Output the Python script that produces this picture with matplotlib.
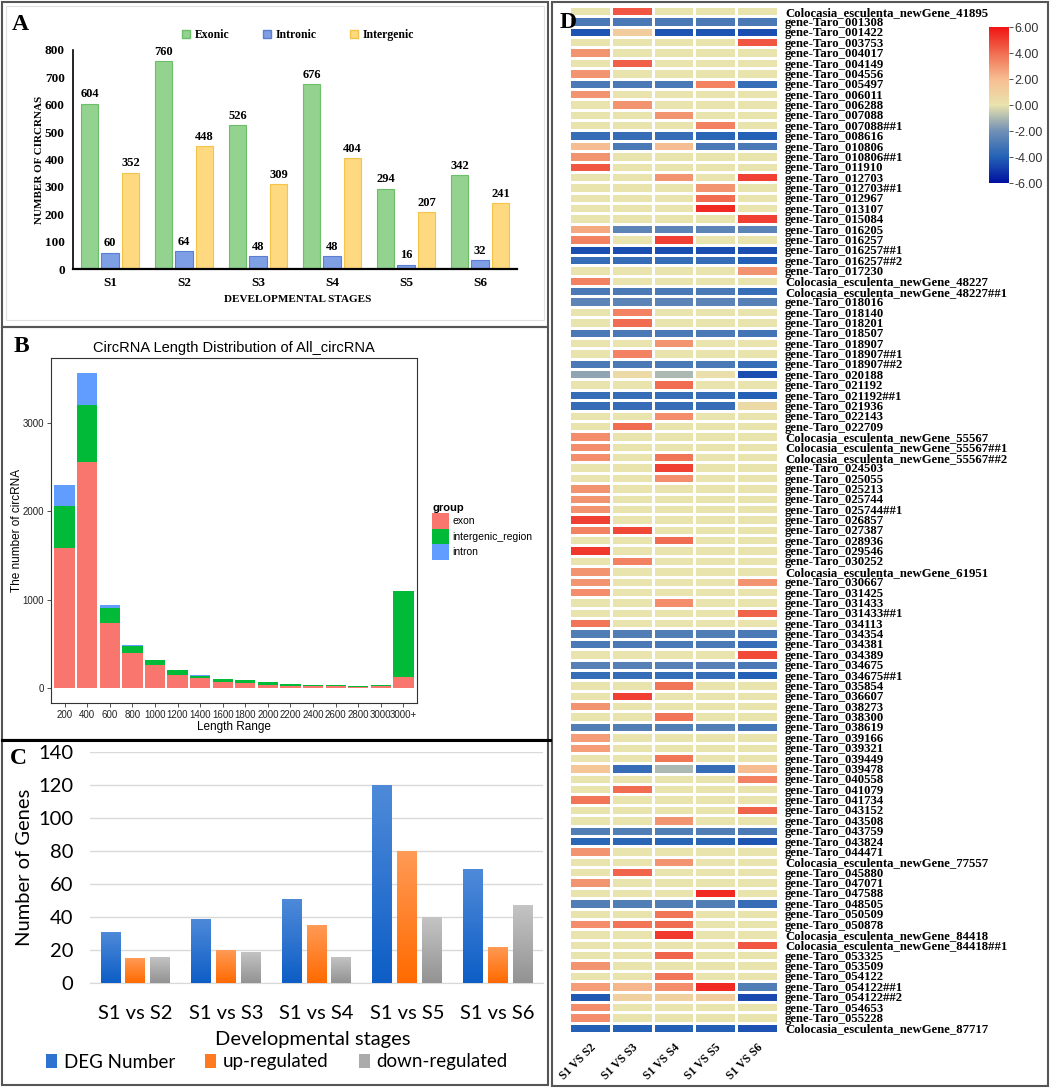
import numpy as np
import matplotlib
matplotlib.use("Agg")
import matplotlib.pyplot as plt
from matplotlib.patches import Rectangle, Patch
from matplotlib.colors import LinearSegmentedColormap

plt.rcParams['axes.unicode_minus'] = False

# ---------------- DATA ----------------
# Panel A
stages = ["S1", "S2", "S3", "S4", "S5", "S6"]
exonic = [604, 760, 526, 676, 294, 342]
intronic = [60, 64, 48, 48, 16, 32]
intergenic = [352, 448, 309, 404, 207, 241]

# Panel B
length_bins = ["200", "400", "600", "800", "1000", "1200", "1400", "1600", "1800",
               "2000", "2200", "2400", "2600", "2800", "3000", "3000+"]
exon_len = [1580, 2557, 739, 398, 257, 151, 109, 72, 53, 38, 26, 19, 19, 11, 19, 121]
intergenic_len = [477, 651, 170, 75, 57, 49, 31, 30, 33, 30, 19, 15, 11, 11, 19, 973]
intron_len = [238, 360, 26, 19, 5, 4, 3, 3, 2, 2, 2, 1, 1, 1, 1, 8]

# Panel C
comparisons = ["S1 vs S2", "S1 vs S3", "S1 vs S4", "S1 vs S5", "S1 vs S6"]
deg_number = [31, 39, 51, 120, 69]
up_regulated = [15, 20, 35, 80, 22]
down_regulated = [16, 19, 16, 40, 47]

# Panel D
heat_cols = ["S1 VS S2", "S1 VS S3", "S1 VS S4", "S1 VS S5", "S1 VS S6"]
gene_names = [
    "Colocasia_esculenta_newGene_41895",
    "gene-Taro_001308", "gene-Taro_001422", "gene-Taro_003753", "gene-Taro_004017",
    "gene-Taro_004149", "gene-Taro_004556", "gene-Taro_005497", "gene-Taro_006011",
    "gene-Taro_006288", "gene-Taro_007088", "gene-Taro_007088##1", "gene-Taro_008616",
    "gene-Taro_010806", "gene-Taro_010806##1", "gene-Taro_011910", "gene-Taro_012703",
    "gene-Taro_012703##1", "gene-Taro_012967", "gene-Taro_013107", "gene-Taro_015084",
    "gene-Taro_016205", "gene-Taro_016257", "gene-Taro_016257##1", "gene-Taro_016257##2",
    "gene-Taro_017230", "Colocasia_esculenta_newGene_48227",
    "Colocasia_esculenta_newGene_48227##1", "gene-Taro_018016", "gene-Taro_018140",
    "gene-Taro_018201", "gene-Taro_018507", "gene-Taro_018907", "gene-Taro_018907##1",
    "gene-Taro_018907##2", "gene-Taro_020188", "gene-Taro_021192", "gene-Taro_021192##1",
    "gene-Taro_021936", "gene-Taro_022143", "gene-Taro_022709",
    "Colocasia_esculenta_newGene_55567", "Colocasia_esculenta_newGene_55567##1",
    "Colocasia_esculenta_newGene_55567##2", "gene-Taro_024503", "gene-Taro_025055",
    "gene-Taro_025213", "gene-Taro_025744", "gene-Taro_025744##1", "gene-Taro_026857",
    "gene-Taro_027387", "gene-Taro_028936", "gene-Taro_029546", "gene-Taro_030252",
    "Colocasia_esculenta_newGene_61951", "gene-Taro_030667", "gene-Taro_031425",
    "gene-Taro_031433", "gene-Taro_031433##1", "gene-Taro_034113", "gene-Taro_034354",
    "gene-Taro_034381", "gene-Taro_034389", "gene-Taro_034675", "gene-Taro_034675##1",
    "gene-Taro_035854", "gene-Taro_036607", "gene-Taro_038273", "gene-Taro_038300",
    "gene-Taro_038619", "gene-Taro_039166", "gene-Taro_039321", "gene-Taro_039449",
    "gene-Taro_039478", "gene-Taro_040558", "gene-Taro_041079", "gene-Taro_041734",
    "gene-Taro_043152", "gene-Taro_043508", "gene-Taro_043759", "gene-Taro_043824",
    "gene-Taro_044471", "Colocasia_esculenta_newGene_77557", "gene-Taro_045880",
    "gene-Taro_047071", "gene-Taro_047588", "gene-Taro_048505", "gene-Taro_050509",
    "gene-Taro_050878", "Colocasia_esculenta_newGene_84418",
    "Colocasia_esculenta_newGene_84418##1", "gene-Taro_053325", "gene-Taro_053509",
    "gene-Taro_054122", "gene-Taro_054122##1", "gene-Taro_054122##2", "gene-Taro_054653",
    "gene-Taro_055228", "Colocasia_esculenta_newGene_87717",
]
log2fc = [
    [0, 4.5, 0, 0, 0],
    [-3, -3, -3, -3, -3], [-4.3, 1.2, -4.3, -4.3, -4.5], [0, 0, 0, 0, 4.5], [3, 0, 0, 0, 0],
    [0, 4.3, 0, 0, 0], [3, 0, 0, 0, 0], [-3, -3, -3, 3.5, -3.5], [3, 0, 0, 0, 0],
    [0, 3, 0, 0, 0], [0, 0, 3, 0, 0], [0, 0, 0, 3.5, 0], [-3.5, -3.5, -3.5, -3.8, -4],
    [2, -3, 2, -3, -3], [3, 0, 0, 0, 0], [4.5, 0, 0, 0, 0], [0, 0, 3, 0, 5],
    [0, 0, 0, 3, 0], [0, 0, 0, 4, 0], [0, 0, 0, 5.5, 0], [0, 0, 0, 0, 5],
    [2.5, -2.5, -2.5, -2.5, -2.5], [3.5, 0, 5, 0, 0], [-4.5, -4.5, -4.5, -4.5, -4.5], [-3.5, -3.5, -3.5, -3.5, -4],
    [0, 0, 0, 0, 3], [3.5, 0, 0, 0, 0],
    [-3, -3, -3, -3, -3.5], [-2.5, -2.5, -2.5, -2.5, -2.7], [0, 3.5, 0, 0, 0],
    [0, 4, 0, 0, 0], [-3, -3, -3, -3, -3.2], [0, 0, 3, 0, 0], [0, 3.5, 0, 0, 0],
    [-3, -3, -3, -3, -3.5], [-1.5, 0.5, -1, 0.2, -4.5], [0, 0, 4, 0, 0], [-3.5, -3.5, -3.5, -3.5, -4],
    [-3.5, -3.5, -3.5, -3.5, 0.5], [0, 0, 3.2, 0, 0], [0, 4, 0, 0, 0],
    [3.2, 0, 0, 0, 0], [3.2, 0, 0, 0, 0],
    [3.2, 0, 3.8, 0, 0], [0, 0, 5, 0, 0], [0, 0, 3.2, 0, 0],
    [3, 0, 0, 0, 0], [3, 0, 0, 0, 0], [3, 0, 0, 0, 0], [5, 0, 0, 0, 0],
    [3.5, 4.8, 0, 0, 0], [0, 0, 4, 0, 0], [5.2, 0, 0, 0, 0], [0, 3.5, 0, 0, 0],
    [3, 0, 0, 0, 0], [3, 0, 0, 0, 3], [3.2, 0, 0, 0, 0],
    [0, 0, 3.2, 0, 0], [0, 0, 0, 0, 4.2], [3.8, 0, 0, 0, 0], [-2.8, -2.8, -2.8, -2.8, -3],
    [-3, -3, -3, -3, -3.5], [0, 0, 0, 0, 4.8], [-2.7, -2.7, -2.7, -2.7, -3], [-3.5, -3.5, -3.5, -3.5, -4],
    [0, 0, 3.8, 0, 0], [0, 5, 0, 0, 0], [3, 0, 0, 0, 0], [0, 0, 3.8, 0, 0],
    [-2.8, -2.8, -2.8, -2.8, -3.2], [2.8, 0, 0, 0, 0], [2.8, 0, 0, 0, 0], [0, 0, 3.8, 0, 0],
    [1.5, -3.5, -1, -3.5, 2], [0, 0, 0, 0, 3.5], [0, 4, 0, 0, 0], [3.8, 0, 0, 0, 0],
    [0, 0, 0, 0, 4.2], [0, 0, 3, 0, 0], [-2.8, -2.8, -2.8, -2.8, -3], [-3.8, -3.8, -3.8, -3.8, -4.3],
    [3, 0, 0, 0, 0], [0, 0, 3, 0, 0], [0, 4.2, 0, 0, 0],
    [3, 0, 0, 0, 0], [0, 0, 0, 5.5, 0], [-2.8, -2.8, -2.8, -2.8, -3.5], [0, 0, 3.8, 0, 0],
    [3.2, 3.8, 4, 0, 0], [0, 0, 5.2, 0, 0],
    [0, 0, 0, 0, 4.5], [0, 0, 4.2, 0, 0], [3, 0, 0, 0, 0],
    [0, 0, 3.8, 0, 0], [2.8, 2.2, 3.2, 5.5, -2.8], [-4.2, 1, 1, 1.2, -4.6], [3.2, 0, 0, 0, 0],
    [3.2, 0, 0, 0, 0], [-4, -4, -4, -4, -4.4],
]
colorbar_ticks = [-6, -4, -2, 0, 2, 4, 6]

# ---------------- FIGURE ----------------
W, H = 1052, 1088
fig = plt.figure(figsize=(W / 100, H / 100), dpi=100)
fig.patch.set_facecolor("white")


def rect(x0, y0, x1, y1):
    return [x0 / W, 1 - y1 / H, (x1 - x0) / W, (y1 - y0) / H]


def fx(x):
    return x / W


def fy(y):
    return 1 - y / H


SERIF = "Liberation Serif"
SANS = "Liberation Sans"
CAL = "Lato"

# panel frames
for (x0, y0, x1, y1, lw, col) in [(2, 2, 548, 327, 1.5, "#555555"),
                                   (2, 327, 548, 740, 1.5, "#555555"),
                                   (2, 740, 548, 1085, 1.5, "#555555"),
                                   (552, 2, 1048, 1086, 1.5, "#555555")]:
    fig.add_artist(Rectangle((fx(x0), fy(y1)), fx(x1) - fx(x0), fy(y0) - fy(y1),
                             transform=fig.transFigure, fill=False, lw=lw, ec=col))
fig.add_artist(Rectangle((fx(6), fy(320)), fx(544) - fx(6), fy(6) - fy(320),
                         transform=fig.transFigure, fill=False, lw=0.8, ec="#e0e0e0"))
fig.add_artist(plt.Line2D([fx(2), fx(550)], [fy(740), fy(740)], transform=fig.transFigure,
                          color="black", lw=2.2))

# ---------------- Panel A ----------------
axA = fig.add_axes(rect(73, 50, 517, 269))
xa = np.arange(len(stages))
off, bw = 0.277, 0.23
b1 = axA.bar(xa - off, exonic, bw, color="#93d28f", edgecolor="#6cbf69", lw=0.8)
b2 = axA.bar(xa, intronic, bw, color="#7f9fe4", edgecolor="#5a7fd2", lw=0.8)
b3 = axA.bar(xa + off, intergenic, bw, color="#ffd980", edgecolor="#f3c34a", lw=0.8)
for bars, vals in [(b1, exonic), (b2, intronic), (b3, intergenic)]:
    for bar, v in zip(bars, vals):
        axA.text(bar.get_x() + bar.get_width() / 2, v + 12, str(v), ha="center", va="bottom",
                 fontfamily=SERIF, fontweight="bold", fontsize=9)
axA.set_xlim(-0.5, 5.5)
axA.set_ylim(0, 800)
axA.set_yticks(range(0, 801, 100))
axA.set_xticks(xa)
axA.set_xticklabels(stages)
axA.tick_params(length=0, pad=6)
for lab in axA.get_xticklabels() + axA.get_yticklabels():
    lab.set_fontfamily(SERIF)
    lab.set_fontweight("bold")
    lab.set_fontsize(9.5)
for s in ["top", "right"]:
    axA.spines[s].set_visible(False)
axA.spines["bottom"].set_linewidth(1.6)
axA.spines["left"].set_linewidth(1.2)
fig.text(fx(40), fy(160), "NUMBER OF CIRCRNAS", rotation=90, ha="center", va="center",
         fontfamily=SERIF, fontweight="bold", fontsize=8)
fig.text(fx(298), fy(299), "DEVELOPMENTAL STAGES", ha="center", va="center",
         fontfamily=SERIF, fontweight="bold", fontsize=8)
fig.text(fx(12), fy(24), "A", ha="left", va="center", fontfamily=SERIF,
         fontweight="bold", fontsize=17)
fig.legend([Patch(fc="#93d28f", ec="#6cbf69"), Patch(fc="#7f9fe4", ec="#5a7fd2"),
            Patch(fc="#ffd980", ec="#f3c34a")], ["Exonic", "Intronic", "Intergenic"],
           loc="center", bbox_to_anchor=(fx(298), fy(35)), ncol=3, frameon=False,
           prop={"family": SERIF, "weight": "bold", "size": 8.5},
           handlelength=0.7, handleheight=0.7, handletextpad=0.4, columnspacing=2.8)

# ---------------- Panel B ----------------
axB = fig.add_axes(rect(51, 358, 417, 703))
xb = np.arange(len(length_bins))
exon_arr = np.array(exon_len)
inter_arr = np.array(intergenic_len)
intr_arr = np.array(intron_len)
axB.bar(xb, exon_arr, 0.9, color="#f8766d", lw=0)
axB.bar(xb, inter_arr, 0.9, bottom=exon_arr, color="#00ba38", lw=0)
axB.bar(xb, intr_arr, 0.9, bottom=exon_arr + inter_arr, color="#619cff", lw=0)
axB.set_xlim(-0.6, 15.6)
axB.set_ylim(-170, 3737)
axB.set_yticks([0, 1000, 2000, 3000])
axB.set_xticks(xb)
axB.set_xticklabels(length_bins)
axB.tick_params(length=3, width=0.6, color="#333333", pad=2, labelsize=7)
for lab in axB.get_xticklabels() + axB.get_yticklabels():
    lab.set_fontfamily(SANS)
    lab.set_color("#222222")
for s in axB.spines.values():
    s.set_linewidth(0.8)
    s.set_color("#333333")
axB.set_title("CircRNA Length Distribution of All_circRNA", fontfamily=SANS, fontsize=10.5, pad=4)
fig.text(fx(17), fy(530), "The number of circRNA", rotation=90, ha="center", va="center",
         fontfamily=SANS, fontsize=8.5)
fig.text(fx(234), fy(727), "Length Range", ha="center", va="center", fontfamily=SANS, fontsize=8.5)
fig.text(fx(14), fy(346), "B", ha="left", va="center", fontfamily=SERIF,
         fontweight="bold", fontsize=17)
legB = fig.legend([Patch(fc="#f8766d"), Patch(fc="#00ba38"), Patch(fc="#619cff")],
                  ["exon", "intergenic_region", "intron"], loc="upper left",
                  bbox_to_anchor=(fx(425), fy(496)), frameon=False, title="group",
                  prop={"family": SANS, "size": 7.5}, handlelength=1.6, handleheight=1.9,
                  handletextpad=0.3, labelspacing=0.0, borderpad=0.2)
legB.get_title().set_fontweight("bold")
legB.get_title().set_fontsize(8)
legB.get_title().set_fontfamily(SANS)
legB._legend_box.align = "left"

# ---------------- Panel C ----------------
axC = fig.add_axes(rect(90, 752, 543, 983))
xc = np.arange(len(comparisons))
offc, bwc = 0.274, 0.22
series = [(deg_number, "#4f8ad9", "#0d5ec6", -offc),
          (up_regulated, "#ff9a55", "#ff6a00", 0),
          (down_regulated, "#c4c4c4", "#939393", offc)]
for vals, ctop, cbot, o in series:
    bars = axC.bar(xc + o, vals, bwc, color=cbot, lw=0, zorder=2)
    cm = LinearSegmentedColormap.from_list("g", [cbot, ctop])
    grad = np.linspace(0, 1, 64).reshape(-1, 1)
    for bar in bars:
        x0 = bar.get_x()
        im = axC.imshow(grad, extent=[x0, x0 + bar.get_width(), 0, bar.get_height()],
                        origin="lower", cmap=cm, aspect="auto", zorder=3)
        im.set_clip_path(bar)
axC.set_xlim(-0.5, 4.5)
axC.set_ylim(0, 140)
axC.set_yticks(range(0, 141, 20))
axC.set_xticks(xc)
axC.set_xticklabels(comparisons)
axC.yaxis.grid(True, color="#d9d9d9", lw=1, zorder=0)
axC.set_axisbelow(True)
for s in ["top", "right", "left"]:
    axC.spines[s].set_visible(False)
axC.spines["bottom"].set_color("#d9d9d9")
axC.tick_params(axis="y", length=0, pad=12, labelsize=14.5)
axC.tick_params(axis="x", length=0, pad=16, labelsize=14.5)
for lab in axC.get_xticklabels() + axC.get_yticklabels():
    lab.set_fontfamily(CAL)
fig.text(fx(25), fy(867), "Number of Genes", rotation=90, ha="center", va="center",
         fontfamily=CAL, fontsize=14.5)
fig.text(fx(313), fy(1040), "Developmental stages", ha="center", va="center",
         fontfamily=CAL, fontsize=14.5)
fig.text(fx(10), fy(758), "C", ha="left", va="center", fontfamily=SERIF,
         fontweight="bold", fontsize=17)
fig.legend([Patch(fc="#2f73d0"), Patch(fc="#ff7a1f"), Patch(fc="#ababab")],
           ["DEG Number", "up-regulated", "down-regulated"], loc="center",
           bbox_to_anchor=(fx(277), fy(1062)), ncol=3, frameon=False,
           prop={"family": CAL, "size": 13.5}, handlelength=0.6, handleheight=0.7,
           handletextpad=0.35, columnspacing=1.6)

# ---------------- Panel D ----------------
cmap = LinearSegmentedColormap.from_list(
    "hm", [(0.0, "#0010a0"), (1 / 6, "#2462b6"), (2 / 6, "#7190b6"), (0.5, "#e9e3ad"),
           (4 / 6, "#f7bd92"), (5 / 6, "#f06e52"), (1.0, "#f01414")])
axD = fig.add_axes(rect(569, 6, 778, 1033))
mat = np.array(log2fc, dtype=float)
mesh = axD.pcolormesh(mat, cmap=cmap, vmin=-6, vmax=6, edgecolors="white", linewidth=1)
axD.set_xlim(0, len(heat_cols))
axD.set_ylim(len(gene_names), 0)
axD.set_yticks(np.arange(len(gene_names)) + 0.5)
axD.set_yticklabels(gene_names)
axD.yaxis.tick_right()
axD.set_xticks(np.arange(len(heat_cols)) + 0.5)
axD.set_xticklabels(heat_cols, rotation=45, ha="right", rotation_mode="anchor")
axD.tick_params(length=0)
axD.tick_params(axis="y", pad=5)
axD.tick_params(axis="x", pad=6)
for lab in axD.get_yticklabels():
    lab.set_fontfamily(SERIF)
    lab.set_fontweight("bold")
    lab.set_fontsize(9.2)
for lab in axD.get_xticklabels():
    lab.set_fontfamily(SERIF)
    lab.set_fontweight("bold")
    lab.set_fontsize(8.5)
for s in axD.spines.values():
    s.set_visible(False)
fig.text(fx(560), fy(22), "D", ha="left", va="center", fontfamily=SERIF,
         fontweight="bold", fontsize=17)

cax = fig.add_axes(rect(989, 27, 1009, 183))
cb = fig.colorbar(mesh, cax=cax, ticks=colorbar_ticks, format="%.2f")
cb.outline.set_visible(False)
cax.tick_params(length=3, width=0.6, labelsize=9, pad=1, color="#333333")
for lab in cax.get_yticklabels():
    lab.set_fontfamily(SANS)
    lab.set_color("#333333")

fig.savefig("out.png", dpi=100)
